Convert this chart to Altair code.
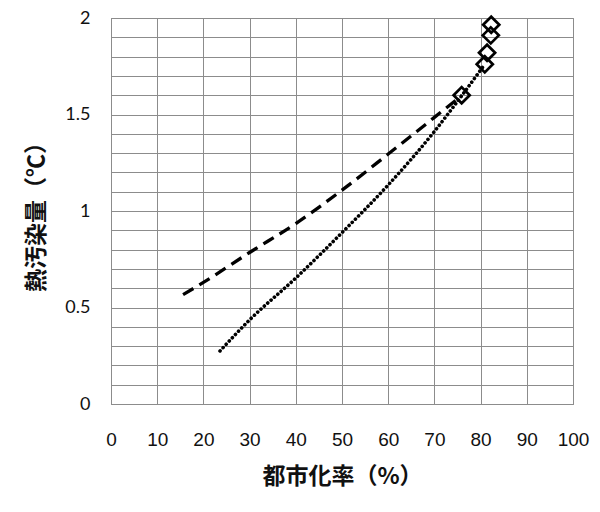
import altair as alt
import pandas as pd

dash_x = [15.6, 20, 30, 40, 50, 60, 70, 76.0]
dash_y = [0.567, 0.63, 0.785, 0.935, 1.108, 1.295, 1.485, 1.60]

dot_x = [23.6, 30, 40, 50, 60, 70, 76.0, 80.9]
dot_y = [0.275, 0.436, 0.653, 0.888, 1.135, 1.412, 1.60, 1.76]

pt_x = [75.9, 80.9, 81.4, 82.2, 82.3]
pt_y = [1.60, 1.76, 1.82, 1.91, 1.965]

x_ticks = list(range(0, 101, 10))
y_ticks = [round(i * 0.1, 1) for i in range(0, 21)]

dash_df = pd.DataFrame({"x": dash_x, "y": dash_y})
dot_df = pd.DataFrame({"x": dot_x, "y": dot_y})
pt_df = pd.DataFrame({"x": pt_x, "y": pt_y})

GRID = "#8c8c8c"

x_enc = alt.X(
    "x:Q",
    scale=alt.Scale(domain=[0, 100], nice=False, zero=False),
    axis=alt.Axis(
        values=x_ticks,
        tickCount=30,
        title="都市化率（%）",
        titleFont="Noto Sans CJK JP",
        titleFontWeight="bold",
        titleFontSize=23,
        titleColor="#111",
        titlePadding=16,
        labelFont="Liberation Sans Narrow, Liberation Sans",
        labelFontSize=19,
        labelColor="#111",
        labelPadding=26,
        labelFlush=False,
        ticks=False,
        domain=True,
        domainColor=GRID,
        grid=True,
        gridColor=GRID,
        gridWidth=1,
        labelOverlap=False,
    ),
)

y_enc = alt.Y(
    "y:Q",
    scale=alt.Scale(domain=[0, 2], nice=False, zero=False),
    axis=alt.Axis(
        values=y_ticks,
        tickCount=50,
        title="熱汚染量（℃）",
        titleFont="Noto Sans CJK JP",
        titleFontWeight="bold",
        titleFontSize=23,
        titleColor="#111",
        titlePadding=16,
        labelExpr="(round(datum.value*10) % 5 == 0) ? format(datum.value, '~g') : ''",
        labelFont="Lato",
        labelFontSize=18,
        labelColor="#111",
        labelPadding=21,
        labelFlush=False,
        ticks=False,
        domain=True,
        domainColor=GRID,
        grid=True,
        gridColor=GRID,
        gridWidth=1,
        labelOverlap=False,
    ),
)

dashed = alt.Chart(dash_df).mark_line(
    color="black", strokeWidth=3.3, strokeDash=[12, 7], interpolate="monotone"
).encode(x=x_enc, y=y_enc)

dotted = alt.Chart(dot_df).mark_line(
    color="black", strokeWidth=3.6, strokeDash=[0.1, 4.4], strokeCap="round",
    interpolate="monotone"
).encode(x="x:Q", y="y:Q")

points = alt.Chart(pt_df).mark_point(
    shape="diamond", size=260, filled=False, color="black", strokeWidth=2.7, opacity=1
).encode(x="x:Q", y="y:Q")

chart = (
    alt.layer(dashed, dotted, points)
    .properties(
        width=462,
        height=386,
        autosize=alt.AutoSizeParams(type="none"),
        padding={"left": 103, "top": 10, "right": 19, "bottom": 100},
        background="white",
    )
    .configure_view(stroke=GRID, strokeWidth=1)
)

chart.save("out.html", embed_options={"renderer": "svg", "actions": False})
